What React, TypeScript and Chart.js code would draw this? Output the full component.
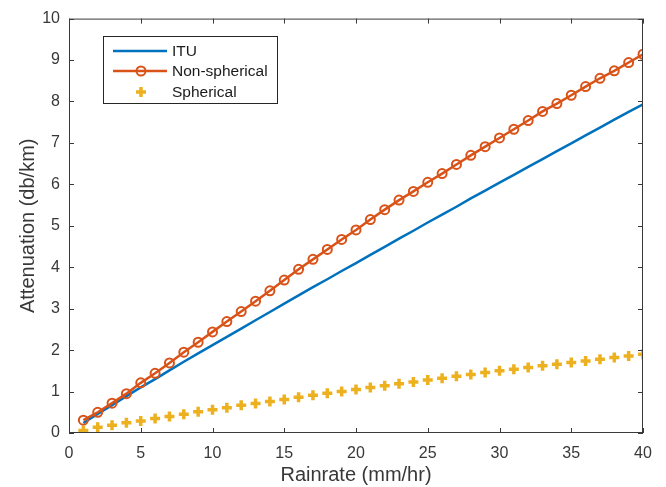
import React, { useEffect, useRef } from "react";
import { Chart, registerables } from "chart.js";

Chart.register(...registerables);

const rainRate = [1,2,3,4,5,6,7,8,9,10,11,12,13,14,15,16,17,18,19,20,21,22,23,24,25,26,27,28,29,30,31,32,33,34,35,36,37,38,39,40];
const ituValues = [0.24,0.46,0.67,0.89,1.10,1.30,1.51,1.72,1.92,2.12,2.32,2.52,2.72,2.92,3.12,3.32,3.52,3.71,3.91,4.10,4.30,4.49,4.69,4.88,5.08,5.27,5.46,5.66,5.85,6.04,6.23,6.42,6.61,6.80,6.99,7.18,7.37,7.56,7.75,7.93];
const nonSphericalValues = [0.31,0.50,0.72,0.95,1.21,1.44,1.69,1.95,2.19,2.44,2.69,2.93,3.18,3.43,3.69,3.95,4.19,4.43,4.67,4.90,5.15,5.39,5.62,5.83,6.05,6.26,6.48,6.70,6.91,7.12,7.33,7.54,7.76,7.95,8.15,8.36,8.56,8.74,8.94,9.14];
const sphericalValues = [0.06,0.14,0.19,0.25,0.29,0.35,0.40,0.45,0.51,0.56,0.61,0.67,0.71,0.76,0.81,0.86,0.91,0.96,1.00,1.05,1.10,1.14,1.19,1.23,1.28,1.32,1.37,1.41,1.46,1.50,1.54,1.58,1.62,1.66,1.70,1.74,1.78,1.82,1.86,1.90];
const seriesNames = ["ITU", "Non-spherical", "Spherical"];
const xLabel = "Rainrate (mm/hr)";
const yLabel = "Attenuation (db/km)";

const BLUE = "#0072BD";
const ORANGE = "#D95319";
const YELLOW = "#EDB120";
const AXIS = "#3a3a3a";
const TEXT = "#383838";
const FONT = "'Liberation Sans', Arial, sans-serif";

const boxPlugin = {
  id: "matlabBox",
  afterDraw(chart: any) {
    const { ctx, chartArea: a, scales } = chart;
    ctx.save();
    ctx.strokeStyle = AXIS;
    ctx.lineWidth = 1;
    ctx.strokeRect(a.left + 0.5, a.top + 0.5, a.right - a.left - 1, a.bottom - a.top - 1);
    const tl = 5;
    ctx.beginPath();
    scales.x.ticks.forEach((t: any) => {
      const px = Math.round(scales.x.getPixelForValue(t.value)) + 0.5;
      ctx.moveTo(px, a.bottom); ctx.lineTo(px, a.bottom - tl);
      ctx.moveTo(px, a.top); ctx.lineTo(px, a.top + tl);
    });
    scales.y.ticks.forEach((t: any) => {
      const py = Math.round(scales.y.getPixelForValue(t.value)) + 0.5;
      ctx.moveTo(a.left, py); ctx.lineTo(a.left + tl, py);
      ctx.moveTo(a.right, py); ctx.lineTo(a.right - tl, py);
    });
    ctx.stroke();

    // legend
    const lx = 103, ly = 36, lw = 174, lh = 67;
    ctx.fillStyle = "#ffffff";
    ctx.fillRect(lx, ly, lw, lh);
    ctx.strokeStyle = "#262626";
    ctx.strokeRect(lx + 0.5, ly + 0.5, lw, lh);
    const rows = [51, 71, 92];
    const x0 = 113, x1 = 167, xm = 141;
    ctx.font = `15.5px ${FONT}`;
    ctx.textBaseline = "middle";
    ctx.textAlign = "left";
    ctx.strokeStyle = BLUE; ctx.lineWidth = 2.5;
    ctx.beginPath(); ctx.moveTo(x0, rows[0]); ctx.lineTo(x1, rows[0]); ctx.stroke();
    ctx.strokeStyle = ORANGE;
    ctx.beginPath(); ctx.moveTo(x0, rows[1]); ctx.lineTo(x1, rows[1]); ctx.stroke();
    ctx.lineWidth = 2;
    ctx.beginPath(); ctx.arc(xm, rows[1], 4.5, 0, Math.PI * 2); ctx.stroke();
    ctx.strokeStyle = YELLOW; ctx.lineWidth = 3.5;
    ctx.beginPath();
    ctx.moveTo(xm - 5, rows[2]); ctx.lineTo(xm + 5, rows[2]);
    ctx.moveTo(xm, rows[2] - 5); ctx.lineTo(xm, rows[2] + 5);
    ctx.stroke();
    ctx.fillStyle = "#1a1a1a";
    seriesNames.forEach((n, i) => ctx.fillText(n, 172, rows[i] + 1));
    ctx.restore();
  },
};

export default function App() {
  const ref = useRef<HTMLCanvasElement>(null);
  useEffect(() => {
    if (!ref.current) return;
    const chart = new Chart(ref.current, {
      type: "line",
      data: {
        datasets: [
          {
            label: seriesNames[0],
            data: rainRate.map((x, i) => ({ x, y: ituValues[i] })),
            borderColor: BLUE,
            borderWidth: 2.5,
            pointRadius: 0,
            fill: false,
            order: 3,
          },
          {
            label: seriesNames[1],
            data: rainRate.map((x, i) => ({ x, y: nonSphericalValues[i] })),
            borderColor: ORANGE,
            borderWidth: 2.5,
            pointStyle: "circle",
            pointRadius: 4.5,
            pointBorderWidth: 2,
            pointBorderColor: ORANGE,
            pointBackgroundColor: "rgba(0,0,0,0)",
            fill: false,
            order: 2,
          },
          {
            label: seriesNames[2],
            data: rainRate.map((x, i) => ({ x, y: sphericalValues[i] })),
            borderColor: YELLOW,
            showLine: false,
            pointStyle: "cross",
            pointRadius: 5,
            pointBorderWidth: 3.5,
            pointBorderColor: YELLOW,
            fill: false,
            order: 1,
          },
        ],
      },
      options: {
        animation: false,
        responsive: false,
        maintainAspectRatio: false,
        layout: { padding: { top: 14, right: 23, left: 0, bottom: 0 } },
        plugins: { legend: { display: false }, tooltip: { enabled: false } },
        scales: {
          x: {
            type: "linear",
            min: 0,
            max: 40,
            ticks: { stepSize: 5, color: TEXT, font: { family: FONT, size: 16 }, padding: 11, maxRotation: 0 },
            grid: { display: false, drawTicks: false },
            border: { display: false },
            title: { display: true, text: xLabel, color: TEXT, font: { family: FONT, size: 20 }, padding: { top: 0, bottom: 0 } },
            afterFit: (s: any) => { s.height = 54; },
          },
          y: {
            type: "linear",
            min: 0,
            max: 10,
            ticks: { stepSize: 1, color: TEXT, font: { family: FONT, size: 16 }, padding: 9 },
            grid: { display: false, drawTicks: false },
            border: { display: false },
            title: { display: true, text: yLabel, color: TEXT, font: { family: FONT, size: 20 }, padding: { top: 16, bottom: 0 } },
            afterFit: (s: any) => { s.width = 69; },
          },
        },
      },
      plugins: [boxPlugin],
    });
    return () => chart.destroy();
  }, []);
  return (
    <div style={{ position: "fixed", left: 0, top: 0, width: 666, height: 487, background: "#fff" }}>
      <canvas ref={ref} width={666} height={487} style={{ width: 666, height: 487 }} />
    </div>
  );
}
